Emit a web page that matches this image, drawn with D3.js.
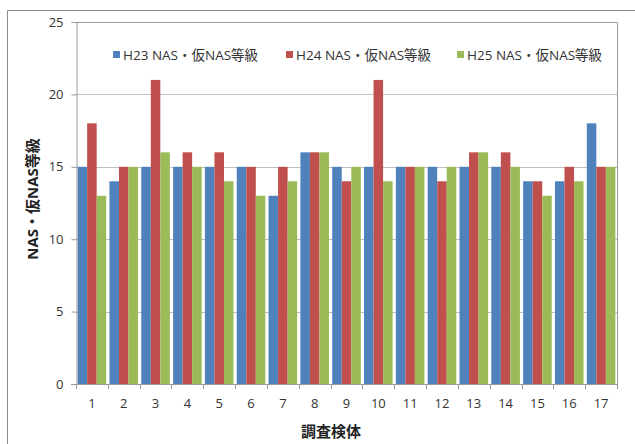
<!DOCTYPE html>
<html>
<head>
<meta charset="utf-8">
<script src="https://cdn.jsdelivr.net/npm/d3@7"></script>
<style>
  html, body { margin: 0; padding: 0; background: #fff; }
  svg { display: block; }
  text { font-family: "Open Sans", "Noto Sans CJK JP", sans-serif; }
</style>
</head>
<body>
<svg id="chart" width="635" height="444"></svg>
<script>
// Specimen numbers and NAS grades per survey year
const categories = ["1","2","3","4","5","6","7","8","9","10","11","12","13","14","15","16","17"];
const seriesNames = ["H23 NAS・仮NAS等級", "H24 NAS・仮NAS等級", "H25 NAS・仮NAS等級"];
const h23 = [15, 14, 15, 15, 15, 15, 13, 16, 15, 15, 15, 15, 15, 15, 14, 14, 18];
const h24 = [18, 15, 21, 16, 16, 15, 15, 16, 14, 21, 15, 14, 16, 16, 14, 15, 15];
const h25 = [13, 15, 16, 15, 14, 13, 14, 16, 15, 14, 15, 15, 16, 15, 13, 14, 15];
const yTicks = [0, 5, 10, 15, 20, 25];
const colors = ["#4F81BD", "#C0504D", "#9BBB59"];

const series = [h23, h24, h25];
const svg = d3.select("#chart");

// Outer frame of the chart area
svg.append("path")
  .attr("d", "M7.5,444 V10.5 H640")
  .attr("fill", "none").attr("stroke", "#8c8c8c").attr("stroke-width", 1);

const plot = { left: 76, right: 617, top: 22, bottom: 384 };

const x = d3.scaleBand().domain(categories).range([plot.left, plot.right]).paddingInner(0).paddingOuter(0);
const inner = d3.scaleBand().domain(d3.range(series.length)).range([0, x.bandwidth()]).paddingInner(0).paddingOuter(0.17);
const y = d3.scaleLinear().domain([0, 25]).range([plot.bottom, plot.top]);

// Horizontal gridlines
svg.append("g").selectAll("line").data(yTicks.filter(d => d > 0)).join("line")
  .attr("x1", plot.left).attr("x2", plot.right)
  .attr("y1", d => Math.round(y(d)) + 0.5).attr("y2", d => Math.round(y(d)) + 0.5)
  .attr("stroke", "#c0c0c0").attr("stroke-width", 1);

// Plot-area border (top and right)
svg.append("path")
  .attr("d", `M${plot.left},${plot.top + 0.5} H${plot.right + 0.5} V${plot.bottom}`)
  .attr("fill", "none").attr("stroke", "#9a9a9a").attr("stroke-width", 1);

// Bars
const groups = svg.append("g").selectAll("g").data(categories).join("g")
  .attr("transform", d => `translate(${x(d)},0)`);
groups.selectAll("rect")
  .data((d, i) => series.map((s, k) => ({ k, v: s[i] })))
  .join("rect")
  .attr("x", d => inner(d.k))
  .attr("width", inner.bandwidth())
  .attr("y", d => y(d.v))
  .attr("height", d => y(0) - y(d.v))
  .attr("fill", d => colors[d.k]);

// Y axis
const yAxis = d3.axisLeft(y).tickValues(yTicks).tickSize(5).tickPadding(8);
const gy = svg.append("g").attr("transform", `translate(${plot.left + 0.5},0)`).call(yAxis);
gy.select(".domain").attr("stroke", "#9a9a9a");
gy.selectAll(".tick line").attr("stroke", "#9a9a9a");
gy.selectAll(".tick text").attr("font-size", 13).attr("fill", "#333");

// X axis with ticks on category boundaries
const xAxisLine = svg.append("g");
xAxisLine.append("line")
  .attr("x1", plot.left - 5).attr("x2", plot.right + 0.5)
  .attr("y1", plot.bottom + 0.5).attr("y2", plot.bottom + 0.5)
  .attr("stroke", "#9a9a9a");
xAxisLine.selectAll("line.tk").data(categories.concat(["end"])).join("line")
  .attr("class", "tk")
  .attr("x1", (d, i) => Math.round(plot.left + i * x.step()) + 0.5)
  .attr("x2", (d, i) => Math.round(plot.left + i * x.step()) + 0.5)
  .attr("y1", plot.bottom).attr("y2", plot.bottom + 5)
  .attr("stroke", "#9a9a9a");
svg.append("g").selectAll("text").data(categories).join("text")
  .attr("x", d => x(d) + x.bandwidth() / 2)
  .attr("y", 408)
  .attr("text-anchor", "middle")
  .attr("font-size", 13).attr("fill", "#333")
  .text(d => d);

// Axis titles
svg.append("text")
  .attr("transform", "translate(38,199) rotate(-90)")
  .attr("text-anchor", "middle")
  .attr("font-size", 15).attr("font-weight", "bold").attr("fill", "#222")
  .text("NAS・仮NAS等級");
svg.append("text")
  .attr("x", 331).attr("y", 437)
  .attr("text-anchor", "middle")
  .attr("font-size", 15).attr("font-weight", "bold").attr("fill", "#222")
  .text("調査検体");

// Legend
const legendX = [113, 286, 457];
const legend = svg.append("g").selectAll("g").data(seriesNames).join("g")
  .attr("transform", (d, i) => `translate(${legendX[i]},55)`);
legend.append("rect").attr("x", 0).attr("y", -4).attr("width", 7).attr("height", 7)
  .attr("fill", (d, i) => colors[i]);
legend.append("text").attr("x", 10).attr("y", 5)
  .attr("font-size", 13.5).attr("fill", "#333")
  .text(d => d);
</script>
</body>
</html>
